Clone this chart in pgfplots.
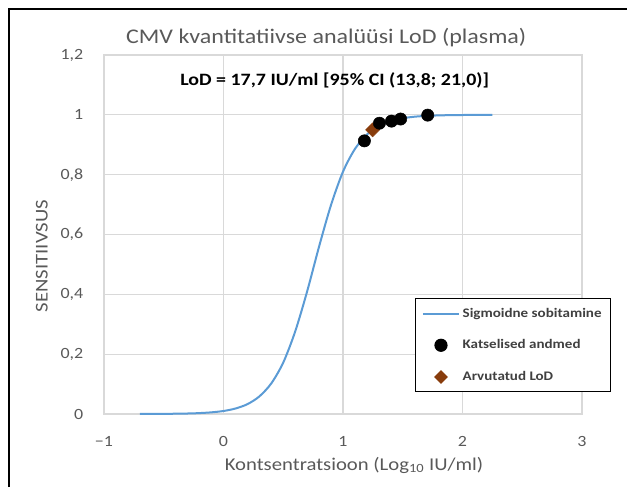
\documentclass[border=0pt]{standalone}
\usepackage{pgfplots}
\pgfplotsset{compat=1.18}
\usepackage{fontspec}
\setmainfont{Carlito}[FakeStretch=1.15]
\definecolor{txtgray}{RGB}{89,89,89}
\definecolor{leggray}{RGB}{64,64,64}
\definecolor{gridgray}{RGB}{217,217,217}
\definecolor{curveblue}{RGB}{91,155,213}
\definecolor{lodbrown}{RGB}{136,60,12}
\pgfplotsset{
  wideline legend/.style={legend image code/.code={\draw[##1] (0cm,0cm) -- (0.95cm,0cm);}},
  widemark legend/.style={legend image code/.code={\draw[mark repeat=2,mark phase=2,##1] plot coordinates {(0cm,0cm) (0.475cm,0cm) (0.95cm,0cm)};}},
}
\begin{document}
\begin{tikzpicture}
\useasboundingbox (-78pt,-54.75pt) rectangle (392.25pt,310.5pt);
\draw[black, line width=1.5pt] (-71.25pt,-54.75pt) -- (-71.25pt,304.1pt) -- (392.25pt,304.1pt);
\begin{axis}[
  scale only axis, width=358.5pt, height=269.25pt,
  xmin=-1, xmax=3, ymin=0, ymax=1.2,
  xtick={-1,0,1,2,3}, xticklabels={−1,0,1,2,3},
  ytick={0,0.2,0.4,0.6,0.8,1,1.2},
  yticklabels={0,{0,2},{0,4},{0,6},{0,8},1,{1,2}},
  grid=major, major grid style={gridgray, line width=0.8pt},
  axis line style={gridgray, line width=0.8pt},
  major tick length=0pt,
  tick label style={font=\fontsize{11.7}{14}\selectfont, text=txtgray},
  xticklabel style={yshift=-13pt},
  yticklabel style={xshift=-12pt},
  title={CMV kvantitatiivse analüüsi LoD (plasma)},
  title style={font=\fontsize{15.65}{19}\selectfont, text=txtgray, at={(axis description cs:0.465,1)}, anchor=south, yshift=-3.5pt},
  xlabel={Kontsentratsioon (Log\textsubscript{10} IU/ml)},
  xlabel style={font=\fontsize{13.5}{16}\selectfont, text=txtgray, at={(axis description cs:0.523,-0.142)}, anchor=center},
  ylabel={SENSITIIVSUS},
  ylabel style={font=\fontsize{13.5}{16}\selectfont, text=txtgray, at={(axis description cs:-0.130,0.44)}, anchor=center},
  legend cell align=left,
  legend style={at={(axis description cs:0.65,0.323)}, anchor=north west, draw=black, line width=0.9pt,
    font=\bfseries\fontsize{9.8}{12}\selectfont, text=leggray, row sep=11.4pt, inner sep=5pt, fill=white},
  clip=false,
]
\addplot[curveblue, line width=1.5pt, smooth, wideline legend] coordinates {
(-0.7,0.00015) (-0.5,0.0005) (-0.3,0.0017) (-0.2,0.0031) (-0.1,0.0056) (0,0.0101)
(0.1,0.0183) (0.2,0.0329) (0.3,0.0588) (0.4,0.1024) (0.5,0.172) (0.6,0.276)
(0.7,0.410) (0.8,0.560) (0.9,0.699) (1.0,0.810) (1.1,0.886) (1.2,0.934)
(1.3,0.963) (1.4,0.979) (1.5,0.9886) (1.6,0.9938) (1.7,0.9966) (1.8,0.9981)
(1.9,0.9990) (2.0,0.99944) (2.1,0.9997) (2.25,0.99987)};
\addlegendentry{Sigmoidne sobitamine}
\addlegendimage{only marks, mark=*, mark size=4.5pt, black, widemark legend}
\addlegendentry{Katselised andmed}
\addlegendimage{only marks, mark=square*, mark size=3.2pt, mark options={rotate=45, fill=lodbrown, draw=lodbrown}, widemark legend}
\addlegendentry{Arvutatud LoD}
\addplot[forget plot, only marks, mark=square*, mark size=3.7pt, mark options={rotate=45, fill=lodbrown, draw=lodbrown}] coordinates {(1.248,0.95)};
\addplot[forget plot, only marks, mark=*, mark size=4.6pt, black] coordinates {
(1.179,0.913) (1.305,0.972) (1.406,0.979) (1.482,0.986) (1.709,0.999)};
\node[font=\bfseries\fontsize{13}{16}\selectfont, text=black] at (axis cs:0.93,1.116) {LoD = 17,7 IU/ml [95\% CI (13,8; 21,0)]};
\end{axis}
\end{tikzpicture}
\end{document}
